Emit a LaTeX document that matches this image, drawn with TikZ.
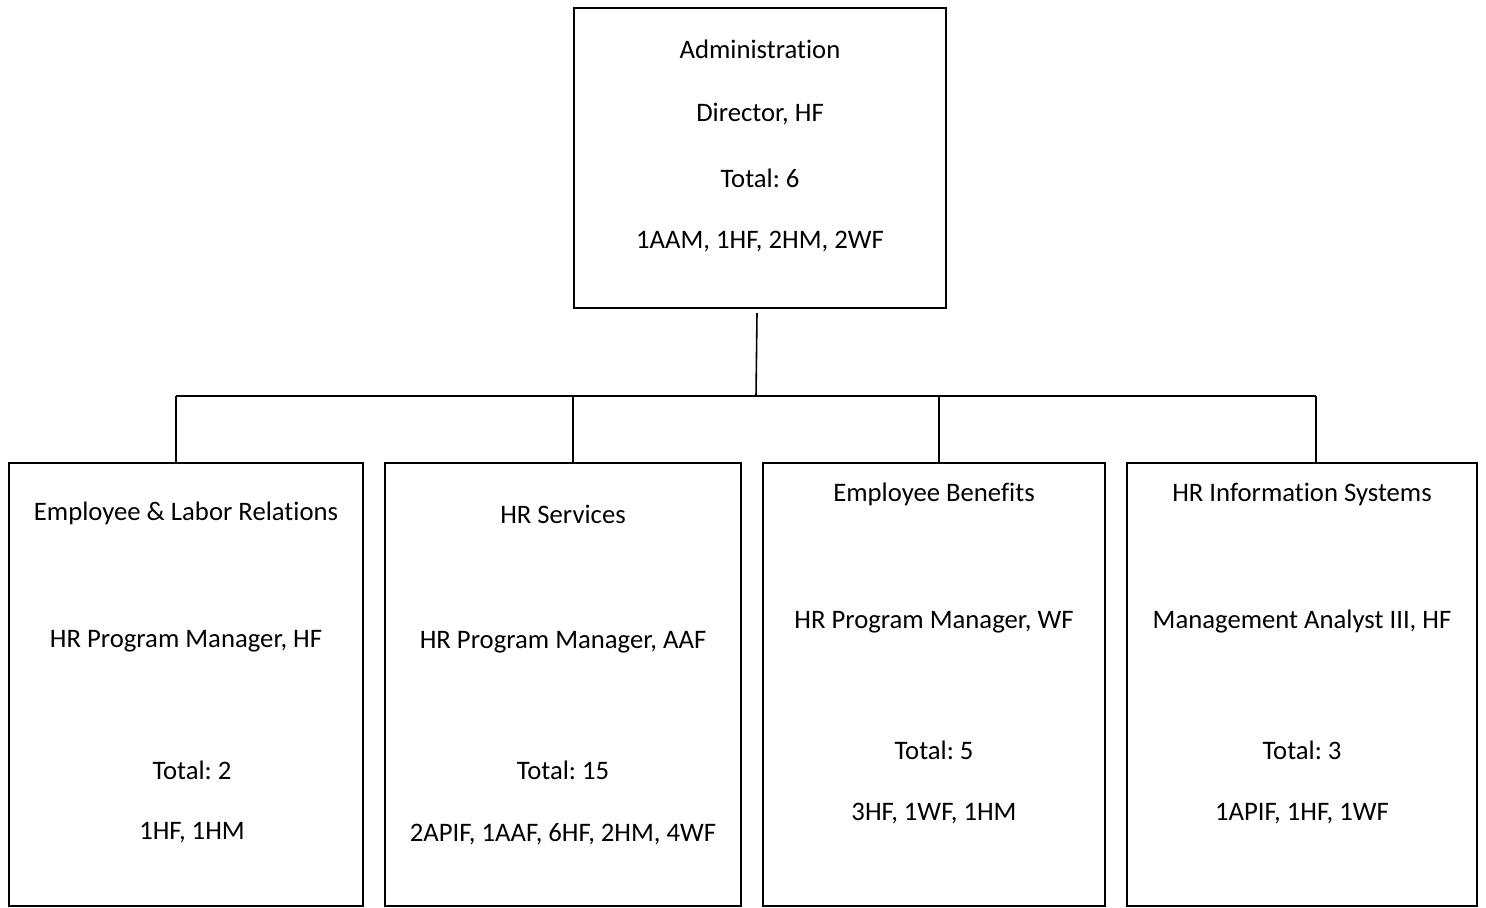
\documentclass[tikz,border=0pt]{standalone}
\usepackage{fontspec}
\setmainfont{Carlito}[RawFeature={-liga}]
\frenchspacing
\begin{document}
\begin{tikzpicture}[x=0.02cm,y=-0.02cm,
  box/.style={draw=black,line width=1.3pt,inner sep=0pt,outer sep=0pt},
  lbl/.style={font=\fontsize{15.2}{18}\selectfont,inner sep=0pt,anchor=center,yshift=-0.04cm},
  conn/.style={draw=black,line width=0.9pt}]
\useasboundingbox (0,0) rectangle (1486,907);
% boxes
\node[box,minimum width=372*0.02cm,minimum height=300*0.02cm] (top) at (760,158) {};
\node[box,minimum width=354*0.02cm,minimum height=443*0.02cm] (b1) at (186,684.5) {};
\node[box,minimum width=356*0.02cm,minimum height=443*0.02cm] (b2) at (563,684.5) {};
\node[box,minimum width=342*0.02cm,minimum height=443*0.02cm] (b3) at (934,684.5) {};
\node[box,minimum width=350*0.02cm,minimum height=443*0.02cm] (b4) at (1302,684.5) {};
% texts
\node[lbl] (t1) at (760,47) {Administration};
\node[lbl] (t2) at (760,112) {Director, HF};
\node[lbl] (t3) at (760,176) {Total: 6};
\node[lbl] (t4) at (760,240) {1AAM, 1HF, 2HM, 2WF};
\node[lbl] (a1) at (186,511) {Employee \& Labor Relations};
\node[lbl] (a2) at (186,639) {HR Program Manager, HF};
\node[lbl] (a3) at (192,768) {Total: 2};
\node[lbl] (a4) at (192,831) {1HF, 1HM};
\node[lbl] (c1) at (563,512) {HR Services};
\node[lbl] (c2) at (563,640) {HR Program Manager, AAF};
\node[lbl] (c3) at (563,768) {Total: 15};
\node[lbl] (c4) at (563,832) {2APIF, 1AAF, 6HF, 2HM, 4WF};
\node[lbl] (d1) at (934,492) {Employee Benefits};
\node[lbl] (d2) at (934,620) {HR Program Manager, WF};
\node[lbl] (d3) at (934,748) {Total: 5};
\node[lbl] (d4) at (934,812) {3HF, 1WF, 1HM};
\node[lbl] (e1) at (1302,492) {HR Information Systems};
\node[lbl] (e2) at (1302,620) {Management Analyst III, HF};
\node[lbl] (e3) at (1302,748) {Total: 3};
\node[lbl] (e4) at (1302,812) {1APIF, 1HF, 1WF};
% connectors
\coordinate (s0) at (757,313);
\coordinate (j0) at (756,396);
\coordinate (jl) at (176,396);
\coordinate (jr) at (1316,396);
\coordinate (j2) at (573,396);
\coordinate (j3) at (939,396);
\draw[conn] (s0) -- (j0);
\draw[conn] (jl) -- (jr);
\draw[conn] (jl) -- (jl |- b1.north);
\draw[conn] (j2) -- (j2 |- b2.north);
\draw[conn] (j3) -- (j3 |- b3.north);
\draw[conn] (jr) -- (jr |- b4.north);
\end{tikzpicture}
\end{document}
